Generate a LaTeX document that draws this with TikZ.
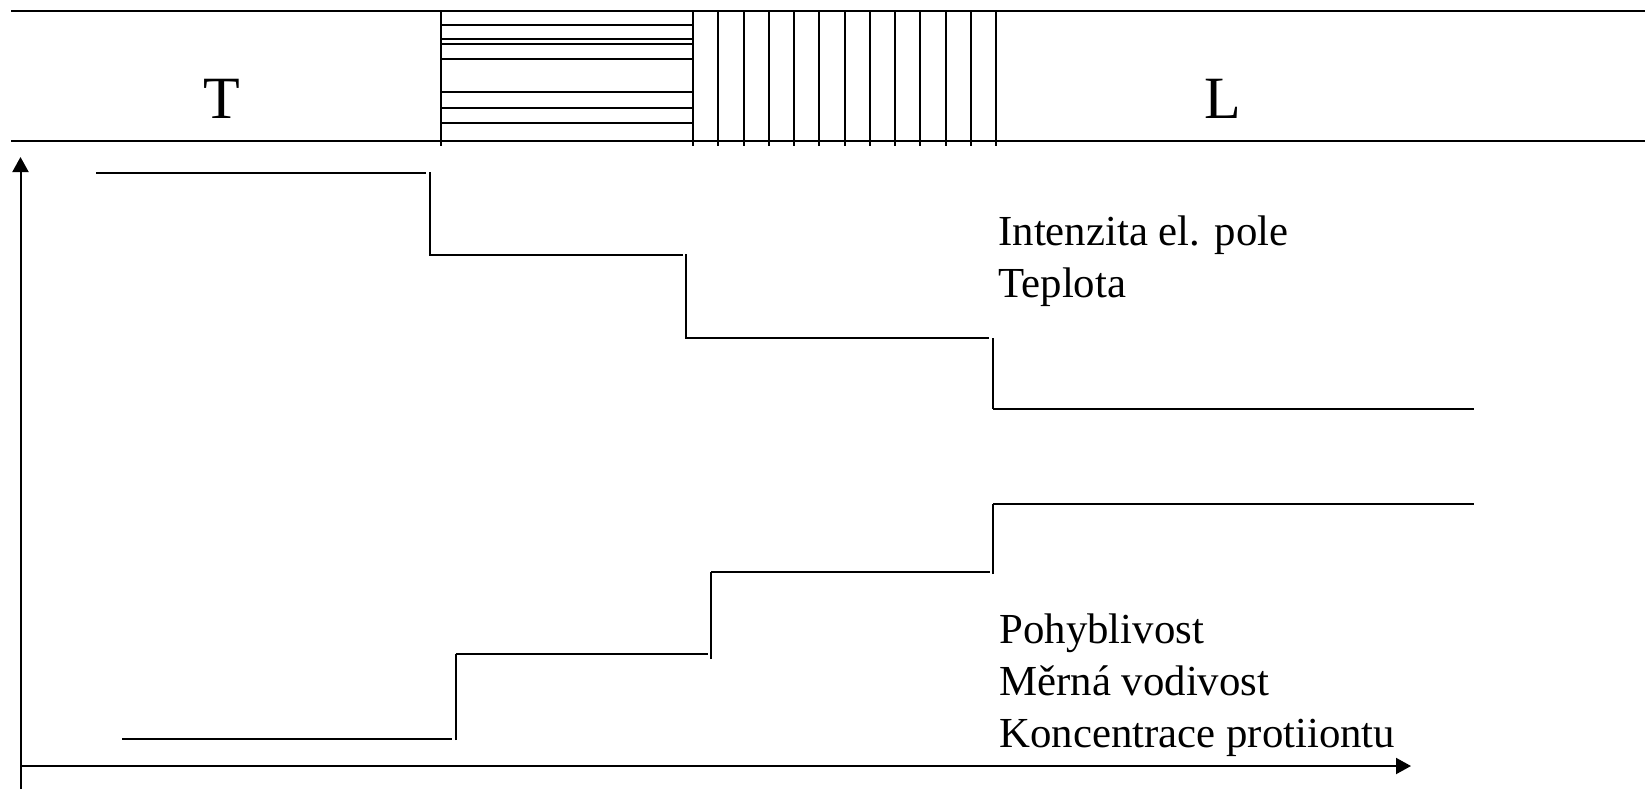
\documentclass[tikz,border=0pt]{standalone}
\usepackage{fontspec}
\setmainfont{Liberation Serif}
\usetikzlibrary{arrows.meta}
\begin{document}
\begin{tikzpicture}[x=0.5pt,y=-0.5pt,
  ln/.style={line width=1pt,line cap=butt},
  axis/.style={line width=1pt,-{Triangle[length=7.5pt,width=8pt]}},
  lbl/.style={inner sep=0pt,anchor=base west,font=\fontsize{21.4}{26}\selectfont},
  big/.style={inner sep=0pt,anchor=base,font=\fontsize{30}{36}\selectfont}]
\useasboundingbox (0,0) rectangle (1645,789);
% top band
\draw[ln] (11,11) -- (1645,11);
\draw[ln] (11,140.5) -- (1645,140.5);
\node[big] (T) at (222,118) {T};
\node[big] (L) at (1223,118) {L};
% horizontally hatched region
\draw[ln] (441,11) -- (441,146);
\foreach \yy in {24.7,38.7,44.3,59,92,108.3,123}
  \draw[ln] (441,\yy) -- (693,\yy);
% vertically hatched region
\foreach \k in {0,...,12}
  \draw[ln] ({693+\k*25.25},11) -- ({693+\k*25.25},146);
% axes
\coordinate (ybot) at (20.5,789);
\coordinate (ytop) at (20.5,157);
\coordinate (xl) at (20.5,766);
\coordinate (xr) at (1411,766);
\draw[axis] (ybot) -- (ytop);
\draw[axis] (xl) -- (xr);
% falling staircase
\draw[ln] (96,172.5) -- (426,172.5);
\draw[ln] (430,172) -- (430,256);
\draw[ln] (430,254.5) -- (683,254.5);
\draw[ln] (686,254) -- (686,338.5);
\draw[ln] (686,338) -- (989,338);
\draw[ln] (993,338) -- (993,409);
\draw[ln] (993,408.5) -- (1474,408.5);
% rising staircase
\draw[ln] (122,739) -- (452,739);
\draw[ln] (455.5,740) -- (455.5,654);
\draw[ln] (455.5,654) -- (708,654);
\draw[ln] (711,659) -- (711,572);
\draw[ln] (711,572) -- (990,572);
\draw[ln] (993,574) -- (993,503.5);
\draw[ln] (993,503.5) -- (1474,503.5);
% labels
\node[lbl] (t1) at (998,245) {Intenzita el. pole};
\node[lbl] (t2) at (998,297) {Teplota};
\node[lbl] (b1) at (999,643) {Pohyblivost};
\node[lbl] (b2) at (999,695) {Měrná vodivost};
\node[lbl] (b3) at (999,747) {Koncentrace protiiontu};
\end{tikzpicture}
\end{document}
